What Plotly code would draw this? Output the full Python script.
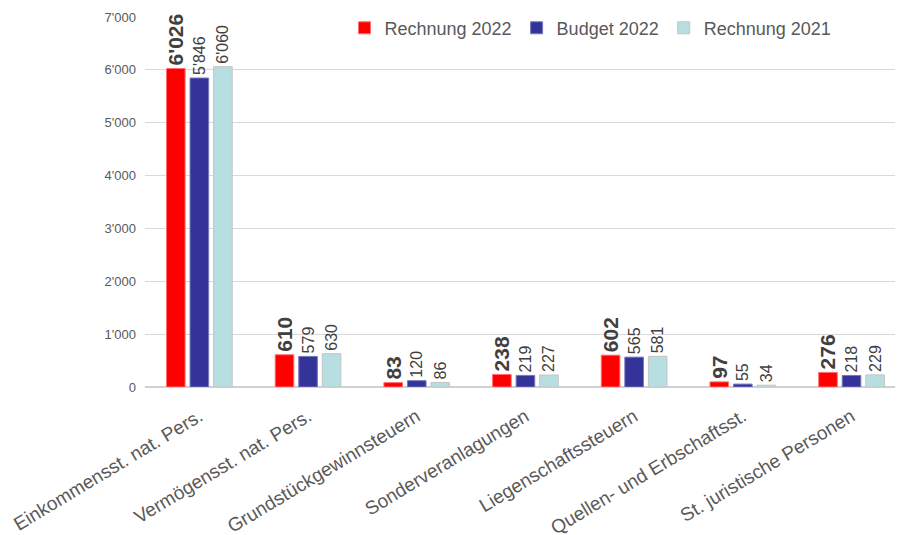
import plotly.graph_objects as go

categories = [
    "Einkommensst. nat. Pers.",
    "Vermögensst. nat. Pers.",
    "Grundstückgewinnsteuern",
    "Sonderveranlagungen",
    "Liegenschaftssteuern",
    "Quellen- und Erbschaftsst.",
    "St. juristische Personen",
]
rechnung_2022 = [6026, 610, 83, 238, 602, 97, 276]
budget_2022 = [5846, 579, 120, 219, 565, 55, 218]
rechnung_2021 = [6060, 630, 86, 227, 581, 34, 229]

FONT = "Liberation Sans, Arial, sans-serif"
TXT = "#404040"

series = [
    ("Rechnung 2022", rechnung_2022, "#FF0000", "#FF7070", True),
    ("Budget 2022", budget_2022, "#333399", "#7777BB", False),
    ("Rechnung 2021", rechnung_2021, "#B7DFE2", "#C4C4C4", False),
]

fig = go.Figure()
for name, vals, fill, edge, bold in series:
    fig.add_trace(go.Bar(
        name=name,
        x=categories,
        y=vals,
        marker=dict(color=fill, line=dict(color=edge, width=1)),
        texttemplate="<b>%{y:,d}</b>" if bold else "%{y:,d}",
        textposition="outside",
        textangle=-90,
        constraintext="none",
        cliponaxis=False,
        textfont=dict(family=FONT, size=21 if bold else 16, color=TXT),
        hoverinfo="skip",
    ))

fig.update_layout(
    width=898,
    height=535,
    margin=dict(l=145, r=3, t=17, b=148),
    paper_bgcolor="white",
    plot_bgcolor="white",
    separators=".'",
    barmode="group",
    bargap=0.35,
    bargroupgap=0.21,
    font=dict(family=FONT, color="#595959"),
    legend=dict(
        orientation="h",
        x=0.266, xanchor="left",
        y=0.97, yanchor="middle",
        font=dict(family=FONT, size=18, color="#595959"),
        bgcolor="rgba(0,0,0,0)",
        itemclick=False,
    ),
    showlegend=True,
)
fig.update_yaxes(
    range=[0, 7000],
    dtick=1000,
    tickformat=",d",
    gridcolor="#D9D9D9",
    gridwidth=1,
    zeroline=True,
    zerolinecolor="#D0D0D0",
    zerolinewidth=1.5,
    showline=False,
    ticks="",
    ticklabelstandoff=8,
    automargin=False,
    tickfont=dict(family=FONT, size=13, color="#595959"),
)
fig.update_xaxes(
    range=[-0.5, 6.4],
    tickangle=-31,
    showgrid=False,
    showline=False,
    ticks="",
    ticklabelstandoff=14,
    automargin=False,
    tickfont=dict(family=FONT, size=19, color="#595959"),
)

fig.write_html("out.html")
